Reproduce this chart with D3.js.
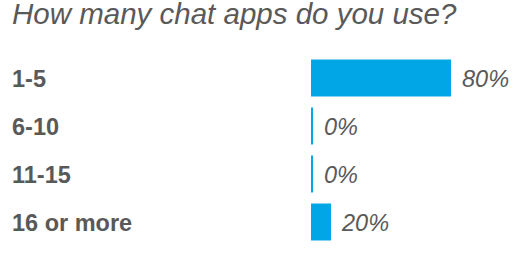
<!DOCTYPE html>
<html>
<head>
<meta charset="utf-8">
<script src="https://cdn.jsdelivr.net/npm/d3@7"></script>
<style>
  body { margin: 0; background: #fff; }
  text { font-family: "Liberation Sans", Arial, sans-serif; fill: #595959; }
</style>
</head>
<body>
<div id="chart"></div>
<script>
var title = "How many chat apps do you use?"
var categories = ["1-5", "6-10", "11-15", "16 or more"]
var percents = [80, 0, 0, 20]

var svgWidth = 514, svgHeight = 276

var svg = d3.select("#chart")
  .append("svg")
  .attr("width", svgWidth)
  .attr("height", svgHeight)

svg.append("text")
  .attr("x", 12)
  .attr("y", 24)
  .style("font-size", "29.5px")
  .style("font-style", "italic")
  .text(title)

// bars start at x=311; the source draws zero bars as a thin stub
var xScale = d3.scaleLinear()
  .domain([0, 20, 80])
  .range([2, 20, 140])

var yScale = d3.scaleBand()
  .domain(categories)
  .range([54, 246])
  .paddingInner(0.23)
  .paddingOuter(0.115)

var barX = 311

var rows = svg.selectAll("g.row")
  .data(categories)
  .enter()
  .append("g")
  .attr("class", "row")

rows.append("text")
  .attr("x", 12)
  .attr("y", d => yScale(d) + yScale.bandwidth() / 2 + 9)
  .style("font-size", "23.5px")
  .style("font-weight", "bold")
  .text(d => d)

rows.append("rect")
  .attr("x", barX)
  .attr("y", d => yScale(d))
  .attr("height", yScale.bandwidth())
  .attr("width", (d, i) => xScale(percents[i]))
  .attr("fill", "#00a6e6")

rows.append("text")
  .attr("x", (d, i) => barX + xScale(percents[i]) + 11)
  .attr("y", d => yScale(d) + yScale.bandwidth() / 2 + 9)
  .style("font-size", "23.5px")
  .style("font-style", "italic")
  .text((d, i) => percents[i] + "%")
</script>
</body>
</html>
